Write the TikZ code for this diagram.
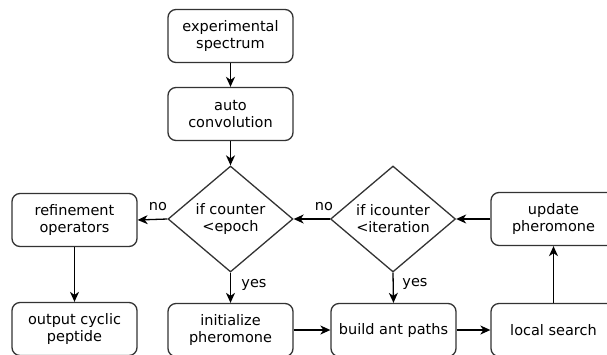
\documentclass[tikz,border=0pt]{standalone}
\usepackage{fontspec}
\setmainfont{DejaVu Sans}
\usetikzlibrary{arrows.meta,shapes.geometric}
\begin{document}
\begin{tikzpicture}[x=1pt,y=-1pt,
  txt/.style={font=\fontsize{14.5}{17}\selectfont},
  box/.style={txt, draw=black!80, line width=1.3pt, rounded corners=8pt,
    minimum width=125pt, minimum height=53pt, align=center, inner sep=0pt},
  dec/.style={txt, draw=black!80, line width=1.3pt, diamond, aspect=1.18,
    minimum width=125pt, minimum height=106pt, align=center, inner sep=0pt},
  arr/.style={line width=1.3pt, -{Stealth[length=10pt,width=9pt,inset=3pt]}},
  lbl/.style={txt, inner sep=0pt}]
\useasboundingbox (0,0) rectangle (607,354);
\clip (0,0) rectangle (607,354);
\node[box] (exp) at (230.5,36) {experimental\\spectrum};
\node[box] (auto) at (230.5,114) {auto\\convolution};
\node[dec] (d1) at (230.5,219) {if counter\\<epoch};
\node[dec] (d2) at (393,219) {if icounter\\<iteration};
\node[box] (ref) at (74.5,220) {refinement\\operators};
\node[box] (out) at (74.5,329) {output cyclic\\peptide};
\node[box] (init) at (230.5,330) {initialize\\pheromone};
\node[box] (build) at (393.5,330) {build ant paths};
\node[box] (local) at (553.5,330) {local search};
\node[box] (upd) at (553.5,219) {update\\pheromone};
\draw[arr] (exp) -- (auto);
\draw[arr] (auto) -- (d1);
\draw[arr] (d1.west) -- (ref.east);
\draw[arr] (ref) -- (out);
\draw[arr] (d1.south) -- (init.north);
\draw[arr] (init) -- (build);
\draw[arr] (d2.south) -- (build.north);
\draw[arr] (d2.west) -- (d1.east);
\draw[arr] (build) -- (local);
\draw[arr] (local) -- (upd);
\draw[arr] (upd.west) -- (d2.east);
\node[lbl] (no1) at (158,207) {no};
\node[lbl] (yes1) at (254,285) {yes};
\node[lbl] (no2) at (324,207) {no};
\node[lbl] (yes2) at (415,284) {yes};
\end{tikzpicture}
\end{document}
